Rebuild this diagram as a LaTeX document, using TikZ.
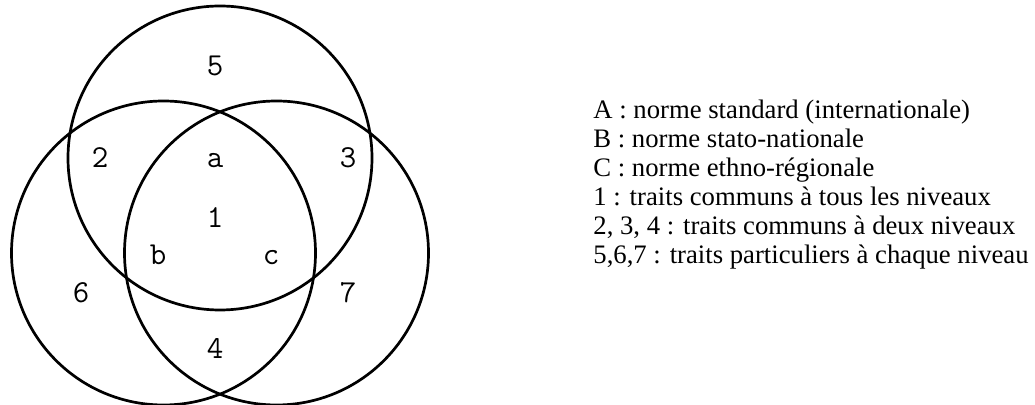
\documentclass[tikz,border=0pt]{standalone}
\usepackage{fontspec}
\setmainfont{Liberation Serif}

\begin{document}
\begin{tikzpicture}[
  x=0.5pt,y=0.5pt,
  ring/.style={draw,circle,line width=1.35pt,inner sep=0pt,minimum size=152pt},
  reg/.style={anchor=base,font=\ttfamily\fontsize{16}{16}\selectfont},
  key/.style={anchor=base west,inner sep=0pt,font=\fontsize{13.35}{14.5}\selectfont}
]
\useasboundingbox (0,0) rectangle (1035,-405);

% ---- the three norms ----
\node[ring] (A) at (220,-158) {};
\node[ring] (B) at (163.5,-253) {};
\node[ring] (C) at (276.5,-253) {};

% ---- regions ----
\foreach \t/\x/\y in {5/215/76, 2/100/168, a/215/168, 3/348/168, 1/215/228,
                      b/158/265, c/271/265, 6/81/303, 7/348/303, 4/215/359}
  {\node[reg] (reg-\t) at (\x,-\y) {\t};}

% ---- legend ----
\foreach \t [count=\i from 0] in {
    {A : norme standard (internationale)},
    {B : norme stato-nationale},
    {C : norme ethno-régionale},
    {1 : traits communs à tous les niveaux},
    {2, 3, 4 : traits communs à deux niveaux},
    {5,6,7 : traits particuliers à chaque niveau}}
  {\node[key] (key-\i) at (593,{-119-29*\i}) {\t};}
\end{tikzpicture}
\end{document}
